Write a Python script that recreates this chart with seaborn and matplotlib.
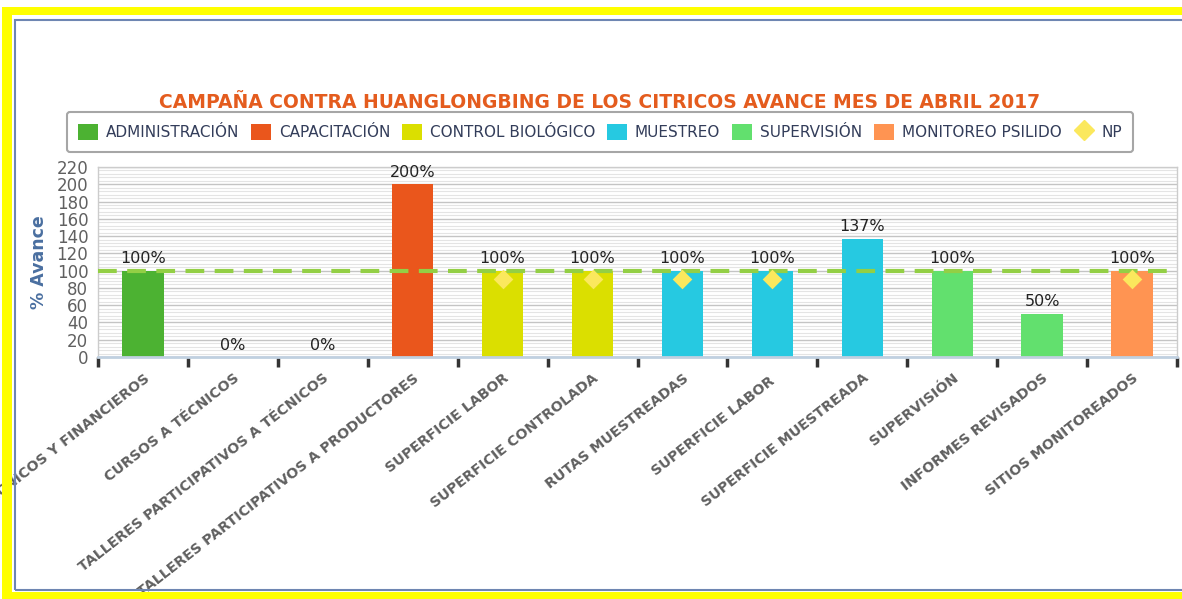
import pandas as pd
import numpy as np
import seaborn as sns
import matplotlib.pyplot as plt
from matplotlib.patches import Rectangle, Patch
from matplotlib.lines import Line2D
from matplotlib.ticker import MultipleLocator

# data
categories = [
    'RECURSOS MATERIALES, TÉCNICOS Y FINANCIEROS', 'CURSOS A TÉCNICOS',
    'TALLERES PARTICIPATIVOS A TÉCNICOS', 'TALLERES PARTICIPATIVOS A PRODUCTORES',
    'SUPERFICIE LABOR', 'SUPERFICIE CONTROLADA', 'RUTAS MUESTREADAS',
    'SUPERFICIE LABOR ', 'SUPERFICIE MUESTREADA', 'SUPERVISIÓN',
    'INFORMES REVISADOS', 'SITIOS MONITOREADOS'
]
groups = [
    'ADMINISTRACIÓN', 'CAPACITACIÓN', 'CAPACITACIÓN', 'CAPACITACIÓN',
    'CONTROL BIOLÓGICO', 'CONTROL BIOLÓGICO', 'MUESTREO', 'MUESTREO', 'MUESTREO',
    'SUPERVISIÓN', 'SUPERVISIÓN', 'MONITOREO PSILIDO'
]
avance = [100, 0, 0, 200, 100, 100, 100, 100, 137, 100, 50, 100]
np_categories = ['SUPERFICIE LABOR', 'SUPERFICIE CONTROLADA', 'RUTAS MUESTREADAS',
                 'SUPERFICIE LABOR ', 'SITIOS MONITOREADOS']
np_values = [90, 90, 90, 90, 90]
meta = 100

group_colors = {
    'ADMINISTRACIÓN': '#4cb232',
    'CAPACITACIÓN': '#ea561c',
    'CONTROL BIOLÓGICO': '#dbdf00',
    'MUESTREO': '#26c9e1',
    'SUPERVISIÓN': '#62e06e',
    'MONITOREO PSILIDO': '#ff9452',
}
np_color = '#fbe85d'

df = pd.DataFrame({'categoria': categories, 'grupo': groups, 'avance': avance})
df_np = pd.DataFrame({'categoria': np_categories, 'np': np_values})

plt.rcParams['font.family'] = ['DejaVu Sans']

fig = plt.figure(figsize=(11.82, 5.99), dpi=100)
fig.patch.set_facecolor('white')

# yellow frame and inner panel border
W, H = 1182, 599
def fr(x0, y0, x1, y1, **kw):
    fig.patches.append(Rectangle((x0 / W, 1 - y1 / H), (x1 - x0) / W, (y1 - y0) / H,
                                 transform=fig.transFigure, **kw))
fr(2, 7, 1182, 15, color='#ffff00', lw=0)
fr(2, 7, 12, 599, color='#ffff00', lw=0)
fr(2, 592, 1182, 599, color='#ffff00', lw=0)
fr(15, 20, 1190, 590, facecolor='none', edgecolor='#6e86b2', lw=1.5)

ax = fig.add_axes([98 / W, 1 - 357 / H, (1177 - 98) / W, (357 - 167) / H])

sns.barplot(data=df, x='categoria', y='avance', hue='grupo', order=categories,
            palette=group_colors, dodge=False, width=0.46, saturation=1,
            legend=False, ax=ax)
sns.stripplot(data=df_np, x='categoria', y='np', order=categories, jitter=False,
              marker='D', size=10, color=np_color, linewidth=0, zorder=5, ax=ax)

ax.axhline(meta, color='#93cf45', lw=3, ls=(0, (4.5, 2.5)), zorder=4)

for i, v in enumerate(avance):
    ax.text(i, v + 5, f'{v}%', ha='center', va='bottom', fontsize=11.5, color='#222222')

ax.set_ylim(0, 220)
ax.set_xlim(-0.5, len(categories) - 0.5)
ax.yaxis.set_major_locator(MultipleLocator(20))
ax.yaxis.set_minor_locator(MultipleLocator(4))
ax.grid(axis='y', which='major', color='#c4c4c4', lw=1)
ax.grid(axis='y', which='minor', color='#e4e4e4', lw=0.8)
ax.set_axisbelow(True)

ax.tick_params(axis='y', which='both', length=0, labelsize=12, labelcolor='#606060', pad=7)
ax.set_xticks(np.arange(len(categories)))
ax.set_xticklabels(categories, rotation=38, ha='right', rotation_mode='anchor',
                   fontsize=10.3, fontweight='bold', color='#606060')
ax.tick_params(axis='x', which='major', length=0, pad=10)
ax.set_xticks(np.arange(len(categories) + 1) - 0.5, minor=True)
ax.tick_params(axis='x', which='minor', length=7, width=2.5, color='#333333', direction='out')

for s in ['top', 'left', 'right']:
    ax.spines[s].set_color('#cccccc')
    ax.spines[s].set_linewidth(1)
ax.spines['bottom'].set_color('#c0d0e0')
ax.spines['bottom'].set_linewidth(2)

ax.set_xlabel('')
ax.set_ylabel('% Avance', fontsize=12.5, fontweight='bold', color='#4a6fa0', labelpad=6)

fig.text(600 / W, 1 - 102 / H,
         'CAMPAÑA CONTRA HUANGLONGBING DE LOS CITRICOS AVANCE MES DE ABRIL 2017',
         ha='center', va='center', fontsize=13.5, fontweight='bold', color='#e45c1e')

handles = [Patch(facecolor=c, edgecolor='none', label=g) for g, c in group_colors.items()]
handles.append(Line2D([], [], marker='D', color=np_color, lw=0, markersize=10, label='NP'))
leg = fig.legend(handles=handles, loc='center', bbox_to_anchor=(600 / W, 1 - 132 / H),
                 ncol=7, frameon=True, fontsize=11, handlelength=1.3, handleheight=1.3,
                 handletextpad=0.5, columnspacing=0.8, borderpad=0.75, fancybox=True,
                 labelcolor='#333d5a')
leg.get_frame().set_edgecolor('#909090')
leg.get_frame().set_linewidth(1.5)

fig.savefig('out.png', dpi=100)
